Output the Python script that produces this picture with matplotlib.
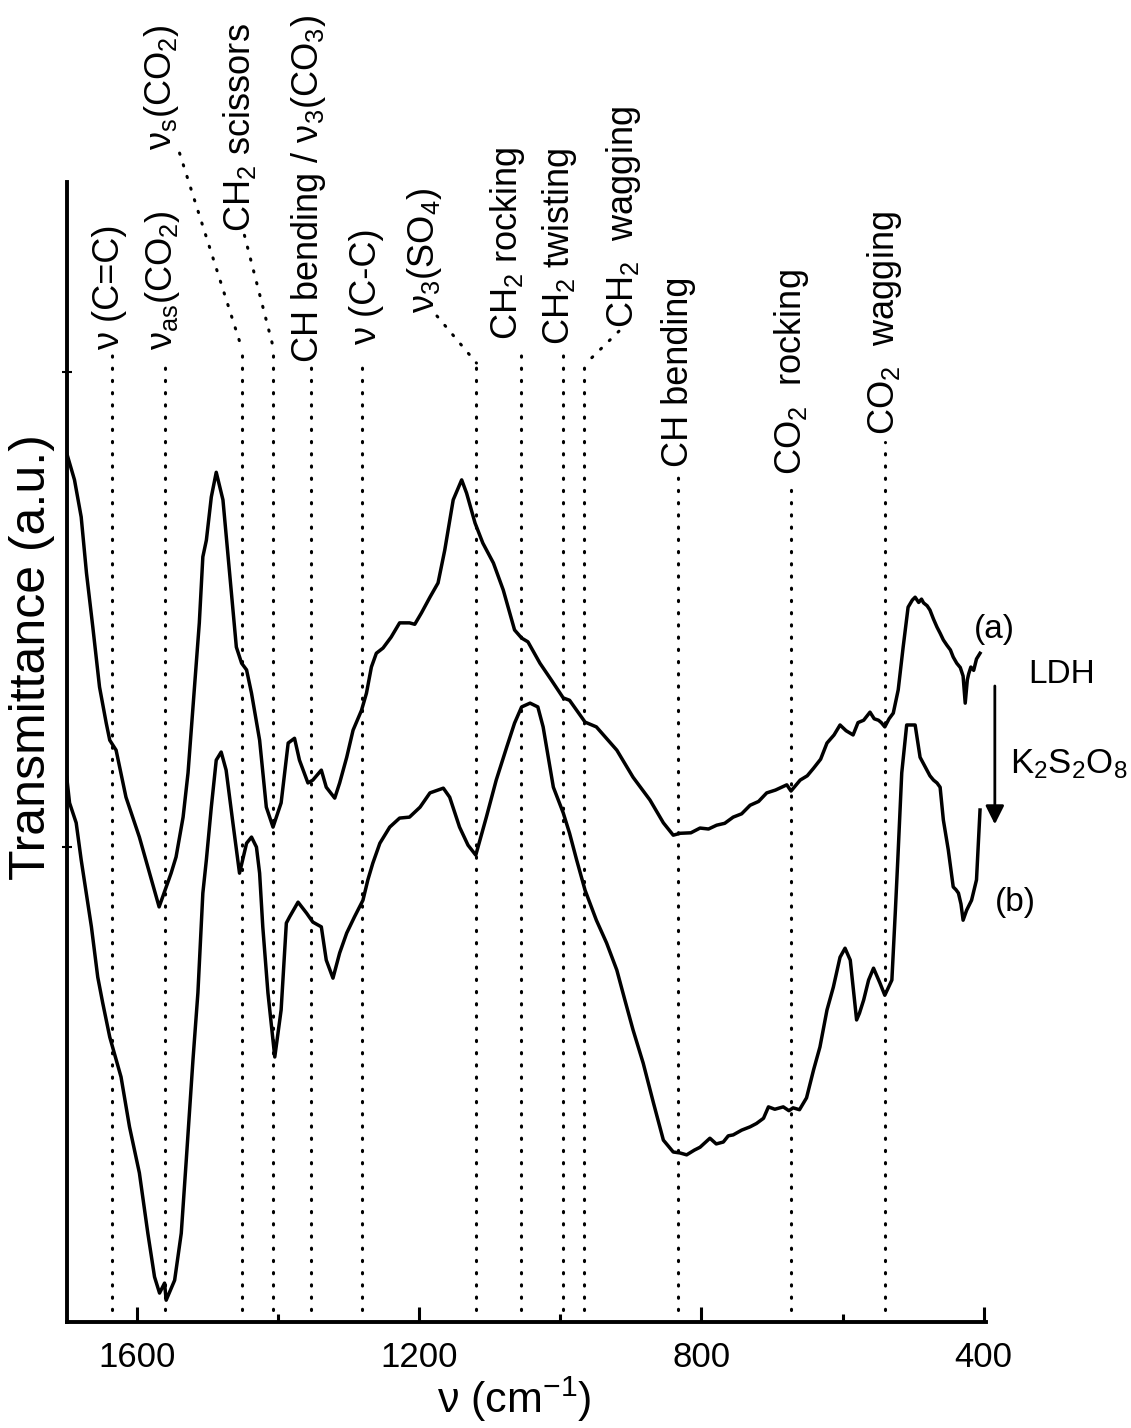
import matplotlib
matplotlib.use("Agg")
import matplotlib.pyplot as plt
from matplotlib.ticker import FixedLocator

plt.rcParams['font.family'] = ['Liberation Sans', 'DejaVu Sans']
plt.rcParams['mathtext.fontset'] = 'custom'
plt.rcParams['mathtext.rm'] = 'Liberation Sans'
plt.rcParams['mathtext.it'] = 'Liberation Sans'

# spectrum (a): LDH
wn_a = [1700, 1689, 1679.5, 1672, 1663, 1653.5, 1644, 1639, 1630, 1616, 1597, 1582.5, 1569,
        1552, 1545, 1535, 1528, 1521, 1512, 1507, 1502, 1495, 1488, 1478.5, 1469, 1459.5,
        1452, 1445, 1438, 1426.5, 1417, 1407.5, 1396, 1386, 1377, 1370, 1358, 1351, 1339,
        1332, 1320, 1313, 1303, 1294, 1282, 1275, 1268, 1261, 1251.5, 1240, 1228, 1214,
        1206.5, 1197, 1185, 1173.5, 1164, 1152, 1140, 1133, 1121, 1110, 1095, 1081, 1065,
        1055, 1046, 1029, 1013, 996, 987, 965, 949, 930, 920, 897, 873, 854, 840, 830,
        815, 802, 790, 778.5, 767, 755, 743, 731, 719, 707.5, 695, 679, 673, 660, 650,
        641, 631, 622, 612, 603.5, 595, 585, 578, 570, 561, 555, 549, 545, 540, 534, 528,
        521, 514, 507, 501, 497, 492, 488, 485, 480, 476, 471, 466, 461.5, 457, 452, 447,
        443, 438, 433, 429, 426, 423, 421, 418, 414, 410, 405]
t_a = [1.829, 1.773, 1.695, 1.577, 1.463, 1.337, 1.261, 1.225, 1.204, 1.105, 1.021, 0.945, 0.874,
       0.945, 0.979, 1.063, 1.156, 1.295, 1.472, 1.611, 1.646, 1.737, 1.789, 1.731, 1.577, 1.421,
       1.387, 1.373, 1.324, 1.225, 1.084, 1.042, 1.093, 1.219, 1.229, 1.183, 1.135, 1.141, 1.162,
       1.126, 1.103, 1.135, 1.189, 1.246, 1.288, 1.324, 1.379, 1.408, 1.419, 1.442, 1.472, 1.472,
       1.469, 1.493, 1.526, 1.556, 1.625, 1.731, 1.773, 1.745, 1.682, 1.640, 1.598, 1.541, 1.457,
       1.440, 1.432, 1.387, 1.352, 1.314, 1.309, 1.263, 1.253, 1.221, 1.204, 1.147, 1.099, 1.051, 1.025, 1.029,
       1.030, 1.040, 1.038, 1.046, 1.050, 1.063, 1.070, 1.088, 1.096, 1.114, 1.120, 1.131, 1.118, 1.141, 1.150,
       1.166, 1.185, 1.219, 1.236, 1.257, 1.245, 1.236, 1.262, 1.267, 1.284, 1.270, 1.267, 1.262, 1.253, 1.270, 1.282,
       1.331, 1.421, 1.505, 1.520, 1.526, 1.515, 1.522, 1.514, 1.508, 1.499, 1.480, 1.463, 1.450, 1.436, 1.425, 1.415,
       1.400, 1.387, 1.378, 1.360, 1.303, 1.352, 1.365, 1.379, 1.372, 1.396, 1.408]

# spectrum (b): after K2S2O8
wn_b = [1700, 1696, 1686.6, 1679.5, 1665, 1656, 1649, 1639, 1623, 1611, 1597, 1585, 1575.5,
        1568.4, 1561.3, 1559, 1547, 1537.6, 1530.5, 1521, 1514, 1507, 1502, 1495, 1488, 1481,
        1474, 1464.4, 1455, 1445, 1438, 1431, 1426.5, 1422, 1414.7, 1405, 1396, 1388.6, 1384,
        1372, 1360, 1351, 1339, 1332, 1322.5, 1313, 1303, 1292, 1280, 1273, 1266, 1256, 1242,
        1228, 1214, 1199, 1185, 1166, 1157, 1143, 1131, 1120, 1105, 1091, 1076, 1065, 1055,
        1043, 1032, 1024.5, 1010, 996, 987, 977, 965, 949, 934.5, 920, 908.6, 897, 882.6, 868,
        854, 840, 830.5, 821, 810, 802, 788, 779, 769, 762, 755, 743, 731, 722, 712, 705, 696,
        684, 676, 670, 661, 651, 641, 632, 622, 613, 603.5, 596.4, 589, 580, 576, 570, 563, 556,
        547, 540, 530, 525, 521.6, 516, 509, 503, 497, 490, 485, 480.5, 476, 471, 466, 461.6,
        457, 450, 443, 439, 435.6, 432, 429, 424, 417, 410, 405]
t_b = [1.147, 1.093, 1.051, 0.973, 0.832, 0.726, 0.672, 0.600, 0.516, 0.411, 0.314, 0.187, 0.095,
       0.061, 0.082, 0.046, 0.088, 0.187, 0.341, 0.552, 0.693, 0.903, 0.973, 1.084, 1.183, 1.200,
       1.162, 1.051, 0.945, 1.008, 1.021, 1.000, 0.945, 0.832, 0.693, 0.558, 0.657, 0.840, 0.853,
       0.884, 0.861, 0.842, 0.832, 0.762, 0.724, 0.777, 0.819, 0.853, 0.888, 0.931, 0.966, 1.008, 1.042,
       1.061, 1.063, 1.084, 1.114, 1.124, 1.105, 1.042, 1.004, 0.983, 1.063, 1.141, 1.211, 1.261, 1.295,
       1.303, 1.295, 1.253, 1.126, 1.072, 1.029, 0.973, 0.909, 0.846, 0.798, 0.741, 0.678, 0.615, 0.545, 0.461,
       0.383, 0.358, 0.356, 0.352, 0.362, 0.368, 0.387, 0.375, 0.379, 0.392, 0.394, 0.404, 0.411, 0.418, 0.429, 0.453, 0.448,
       0.453, 0.445, 0.451, 0.447, 0.472, 0.531, 0.579, 0.657, 0.705, 0.768, 0.787, 0.762, 0.636, 0.650, 0.678, 0.720, 0.745,
       0.714, 0.688, 0.720, 0.867, 0.973, 1.156, 1.257, 1.257, 1.257, 1.189, 1.175, 1.162, 1.150, 1.141, 1.135, 1.126,
       1.057, 0.994, 0.916, 0.910, 0.903, 0.880, 0.846, 0.867, 0.888, 0.931, 1.078]

# band assignments (cm-1)
bands = [1636, 1560, 1452, 1407, 1353, 1282, 1119, 1056, 996, 966, 833, 673, 540]
band_labels = ['ν (C=C)', 'ν$_\\mathrm{as}$(CO$_2$)', 'ν$_\\mathrm{s}$(CO$_2$)', 'CH$_2$ scissors',
               'CH bending / ν$_3$(CO$_3$)', 'ν (C-C)', 'ν$_3$(SO$_4$)', 'CH$_2$ rocking',
               'CH$_2$ twisting', 'CH$_2$  wagging', 'CH bending', 'CO$_2$  rocking', 'CO$_2$  wagging']

# label layout: (label x in cm-1, label bottom, top of vertical line, start of slanted part or None)
layout = [
    (1639, 2.046, 2.036, None),
    (1564, 2.046, 2.029, None),
    (1565, 2.467, 2.051, (1540, 2.461)),
    (1455, 2.295, 2.051, (1448, 2.288)),
    (1357, 2.019, 2.015, None),
    (1275, 2.057, 2.029, None),
    (1192, 2.124, 2.019, (1175, 2.118)),
    (1075, 2.067, 2.057, None),
    (1001, 2.057, 2.046, None),
    (910, 2.093, 2.015, (917, 2.086)),
    (832, 1.800, 1.783, None),
    (673, 1.783, 1.768, None),
    (541, 1.867, 1.853, None),
]

fig = plt.figure(figsize=(11.31, 14.28), dpi=100)
ax = fig.add_axes([0.059, 0.0742, 0.8125, 0.7983])

dot = dict(color='black', lw=2.2, linestyle=(0, (0.4, 3.6)), dash_capstyle='round')
for b, lab, (lx, ly, ltop, start) in zip(bands, band_labels, layout):
    ax.plot([b, b], [0.025, ltop], **dot)
    if start is not None:
        ax.plot([start[0], b], [start[1], ltop], **dot, clip_on=False)
    ax.text(lx, ly, lab, rotation=90, ha='center', va='bottom', fontsize=26, clip_on=False)

ax.plot(wn_a, t_a, color='black', lw=2.5)
ax.plot(wn_b, t_b, color='black', lw=2.5)

ax.text(384, 1.425, '(a)', fontsize=24, ha='center', va='bottom', clip_on=False)
ax.text(289, 1.345, 'LDH', fontsize=24, ha='center', va='baseline', clip_on=False)
ax.annotate('', xy=(384, 1.042), xytext=(384, 1.345),
            arrowprops=dict(arrowstyle='-|>', color='black', lw=2, mutation_scale=28),
            annotation_clip=False)
ax.text(362, 1.156, 'K$_2$S$_2$O$_8$', fontsize=25, ha='left', va='baseline', clip_on=False)
ax.text(355, 0.85, '(b)', fontsize=24, ha='center', va='bottom', clip_on=False)

ax.set_xlim(1700, 397)
ax.set_ylim(0, 2.4)
for s in ['top', 'right']:
    ax.spines[s].set_visible(False)
for s in ['left', 'bottom']:
    ax.spines[s].set_linewidth(2.8)
ax.xaxis.set_major_locator(FixedLocator([1600, 1200, 800, 400]))
ax.xaxis.set_minor_locator(FixedLocator([1400, 1000, 600]))
ax.tick_params(axis='x', which='major', direction='in', length=11, width=2.2, pad=14, labelsize=25)
ax.tick_params(axis='x', which='minor', direction='in', length=6, width=2.2)
ax.set_yticks([1, 2])
ax.set_yticklabels([])
ax.tick_params(axis='y', direction='inout', length=7, width=1.5)

ax.set_xlabel('ν (cm$^{-1}$)', fontsize=31)
ax.xaxis.set_label_coords(0.487, -0.046)
ax.set_ylabel('Transmittance (a.u.)', fontsize=36)
ax.yaxis.set_label_coords(-0.013, 0.583)

fig.savefig('out.png', dpi=100)
